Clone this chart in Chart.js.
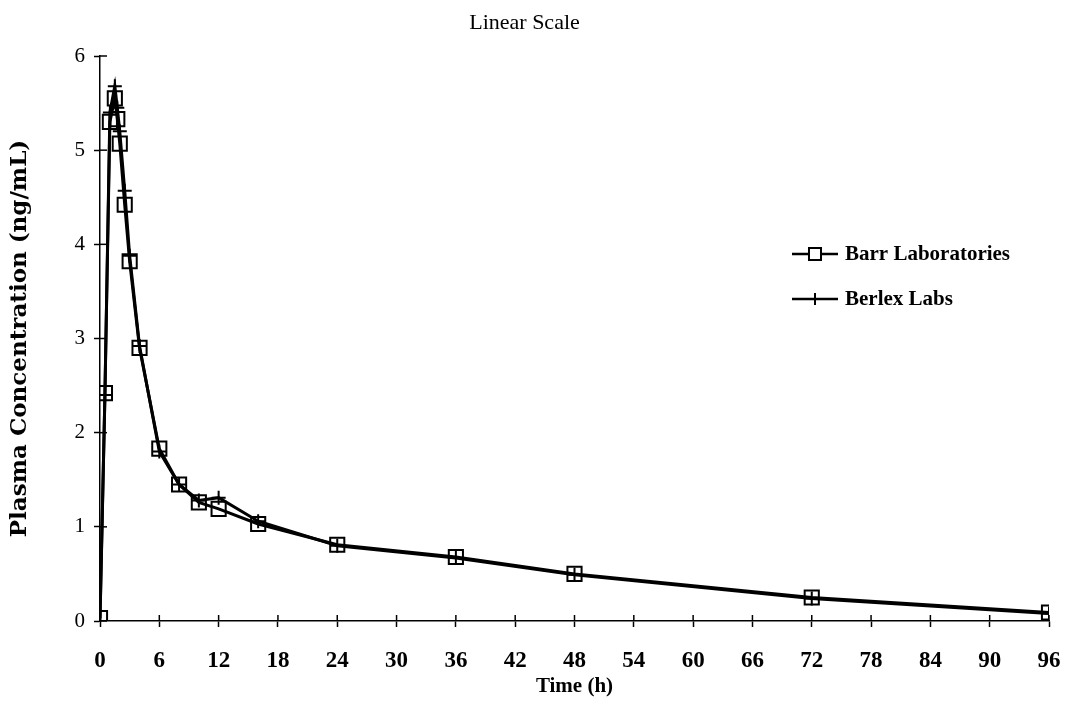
<!DOCTYPE html>
<html>
<head>
<meta charset="utf-8">
<title>Linear Scale</title>
<script src="https://cdn.jsdelivr.net/npm/chart.js@4.4.1/dist/chart.umd.min.js"></script>
<style>
  html, body { margin: 0; padding: 0; background: #fff; }
  #wrap { width: 1065px; height: 706px; }
</style>
</head>
<body>
<div id="wrap"><canvas id="pkChart" width="1065" height="706"></canvas></div>
<script>
// -------------------- DATA --------------------
const timePoints = [0, 0.5, 1, 1.5, 1.75, 2, 2.5, 3, 4, 6, 8, 10, 12, 16, 24, 36, 48, 72, 96];
const barrConc   = [0.03, 2.42, 5.3, 5.55, 5.33, 5.07, 4.42, 3.82, 2.9, 1.83, 1.45, 1.26, 1.19, 1.03, 0.81, 0.68, 0.5, 0.25, 0.09];
const berlexConc = [0.0, 2.4, 5.4, 5.68, 5.45, 5.2, 4.57, 3.88, 2.92, 1.8, 1.45, 1.28, 1.31, 1.06, 0.8, 0.67, 0.49, 0.24, 0.08];
const seriesNames = ["Barr Laboratories", "Berlex Labs"];
const xTicks = [0, 6, 12, 18, 24, 30, 36, 42, 48, 54, 60, 66, 72, 78, 84, 90, 96];
const yTicks = [0, 1, 2, 3, 4, 5, 6];

const SERIF = "'Liberation Serif', 'Times New Roman', serif";

function toXY(xs, ys){ return xs.map((x,i)=>({x:x, y:ys[i]})); }

// -------------------- PLUGINS --------------------
// tick marks that cross the axis line (inner half)
const innerTicks = {
    id: "innerTicks",
    afterDraw(chart){
        const ctx = chart.ctx;
        const xs = chart.scales.x, ys = chart.scales.y;
        ctx.save();
        ctx.strokeStyle = "#000";
        ctx.lineWidth = 1.5;
        xTicks.forEach(v=>{
            const px = xs.getPixelForValue(v);
            ctx.beginPath(); ctx.moveTo(px, xs.top); ctx.lineTo(px, xs.top - 6); ctx.stroke();
        });
        yTicks.forEach(v=>{
            const py = ys.getPixelForValue(v);
            ctx.beginPath(); ctx.moveTo(ys.right, py); ctx.lineTo(ys.right + 7, py); ctx.stroke();
        });
        ctx.restore();
    }
};

// legend sitting inside the plot, right side
const sideLegend = {
    id: "sideLegend",
    afterDraw(chart, args, opts){
        const ctx = chart.ctx;
        const area = chart.chartArea;
        const x0 = area.left + opts.offsetX;
        ctx.save();
        chart.data.datasets.forEach((ds, i)=>{
            const y = area.top + opts.offsetY + i * opts.rowGap;
            ctx.strokeStyle = "#000";
            ctx.lineWidth = 2.5;
            ctx.beginPath(); ctx.moveTo(x0, y); ctx.lineTo(x0 + opts.lineLen, y); ctx.stroke();
            ctx.lineWidth = 2;
            ctx.fillStyle = "#fff";
            Chart.helpers.drawPoint(ctx, {pointStyle: ds.pointStyle, radius: ds.pointRadius * 0.85, borderWidth: 2}, x0 + opts.lineLen/2, y);
            ctx.fillStyle = "#000";
            ctx.font = "bold 21px " + SERIF;
            ctx.textBaseline = "middle";
            ctx.textAlign = "left";
            ctx.fillText(ds.label, x0 + opts.lineLen + 7, y + 1);
        });
        ctx.restore();
    }
};

// -------------------- CHART --------------------
const ctx = document.getElementById("pkChart").getContext("2d");
new Chart(ctx, {
    type: "line",
    data: {
        datasets: [
            {
                label: seriesNames[0],
                data: toXY(timePoints, barrConc),
                borderColor: "#000",
                borderWidth: 3,
                pointStyle: "rect",
                pointRadius: 10,
                pointBorderWidth: 2,
                pointBorderColor: "#000",
                pointBackgroundColor: "rgba(255,255,255,0)",
                tension: 0
            },
            {
                label: seriesNames[1],
                data: toXY(timePoints, berlexConc),
                borderColor: "#000",
                borderWidth: 3,
                pointStyle: "cross",
                pointRadius: 7,
                pointBorderWidth: 2,
                pointBorderColor: "#000",
                tension: 0
            }
        ]
    },
    options: {
        responsive: false,
        animation: false,
        devicePixelRatio: 1,
        layout: { padding: { left: 0, right: 16, top: 0, bottom: 0 } },
        plugins: {
            legend: { display: false },
            tooltip: { enabled: false },
            title: {
                display: true,
                text: "Linear Scale",
                color: "#000",
                font: { family: SERIF, size: 22, weight: "normal", lineHeight: 1.2 },
                padding: { top: 10, bottom: 19.6 }
            },
            sideLegend: { offsetX: 692, offsetY: 198, rowGap: 45, lineLen: 46 }
        },
        scales: {
            x: {
                type: "linear",
                min: 0, max: 96,
                afterFit: s => { s.height = 85; s.paddingLeft = 0; s.paddingRight = 0; },
                afterBuildTicks: s => { s.ticks = xTicks.map(v=>({value:v})); },
                grid: { drawOnChartArea: false, tickLength: 6, tickColor: "#000", tickWidth: 1.5 },
                border: { color: "#000", width: 1.5 },
                ticks: { color: "#000", padding: 20, maxRotation: 0, font: { family: SERIF, size: 23, weight: "bold" } },
                title: {
                    display: true, text: "Time (h)", color: "#000",
                    font: { family: SERIF, size: 21, weight: "bold", lineHeight: 1.2 },
                    padding: { top: 0, bottom: 7 }
                }
            },
            y: {
                type: "linear",
                min: 0, max: 6,
                afterFit: s => { s.width = 100; },
                afterBuildTicks: s => { s.ticks = yTicks.map(v=>({value:v})); },
                grid: { drawOnChartArea: false, tickLength: 6, tickColor: "#000", tickWidth: 1.5 },
                border: { color: "#000", width: 1.5 },
                ticks: { color: "#000", padding: 9, font: { family: SERIF, size: 21 } },
                title: {
                    display: true, text: "Plasma Concentration (ng/mL)", color: "#000",
                    font: { family: "'DejaVu Serif', serif", size: 23, weight: "bold", lineHeight: 1.2 },
                    padding: { top: 6, bottom: 0 }
                }
            }
        }
    },
    plugins: [innerTicks, sideLegend]
});
</script>
</body>
</html>
